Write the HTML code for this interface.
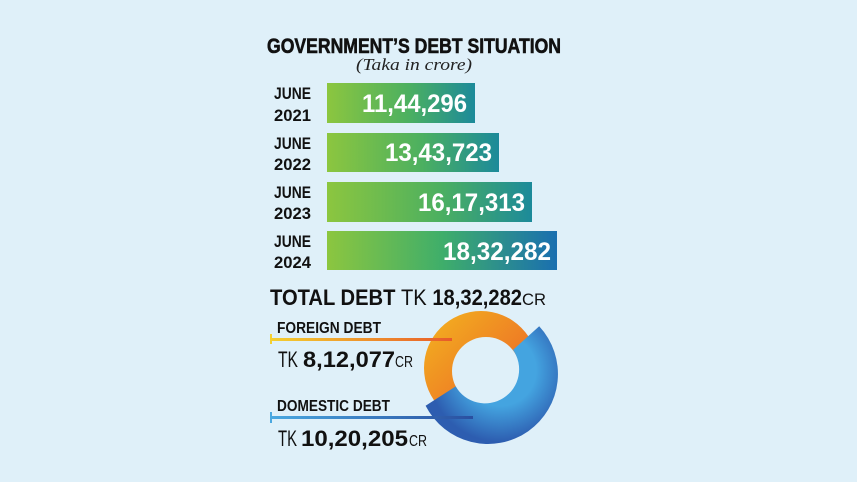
<!DOCTYPE html>
<html><head><meta charset="utf-8"><style>
html,body{margin:0;padding:0;background:#dff0f9;}
svg{display:block}
text{font-family:"Liberation Sans",sans-serif;}
</style></head><body>
<svg width="857" height="482" viewBox="0 0 857 482" xmlns="http://www.w3.org/2000/svg">
<defs>
<linearGradient id="bar" x1="0" y1="0" x2="1" y2="0">
<stop offset="0" stop-color="#8cc63f"/><stop offset="0.55" stop-color="#4cb060"/><stop offset="1" stop-color="#1c8a9a"/>
</linearGradient>
<linearGradient id="bar2" gradientUnits="userSpaceOnUse" x1="327" y1="0" x2="557" y2="0">
<stop offset="0" stop-color="#8cc63f"/><stop offset="0.5" stop-color="#3fae6a"/><stop offset="1" stop-color="#1a6fb0"/>
</linearGradient>
<linearGradient id="org" x1="0" y1="0" x2="1" y2="1">
<stop offset="0" stop-color="#f3b51f"/><stop offset="0.6" stop-color="#ee7a25"/><stop offset="1" stop-color="#e65a2c"/>
</linearGradient>
<radialGradient id="blu" gradientUnits="userSpaceOnUse" cx="500" cy="370" r="72">
<stop offset="0.5" stop-color="#44a4e0"/><stop offset="1" stop-color="#2d5db0"/>
</radialGradient>
<linearGradient id="fl" x1="0" x2="1"><stop offset="0" stop-color="#f4d030"/><stop offset="1" stop-color="#e85a2a"/></linearGradient>
<linearGradient id="dl" x1="0" x2="1"><stop offset="0" stop-color="#4aa8e0"/><stop offset="1" stop-color="#2a4fa0"/></linearGradient>
</defs>
<rect width="857" height="482" fill="#dff0f9"/>
<text x="267" y="53" font-size="21" font-weight="bold" textLength="294" lengthAdjust="spacingAndGlyphs" fill="#111" stroke="#111" stroke-width="0.6">GOVERNMENT’S DEBT SITUATION</text>
<text x="356" y="70" font-size="17" font-style="italic" style="font-family:'Liberation Serif',serif" textLength="116" lengthAdjust="spacingAndGlyphs" fill="#222">(Taka in crore)</text>

<g font-weight="bold" font-size="17" fill="#111">
<text x="274" y="99" textLength="37" lengthAdjust="spacingAndGlyphs">JUNE</text>
<text x="274" y="121" textLength="37" lengthAdjust="spacingAndGlyphs">2021</text>
<text x="274" y="149" textLength="37" lengthAdjust="spacingAndGlyphs">JUNE</text>
<text x="274" y="170" textLength="37" lengthAdjust="spacingAndGlyphs">2022</text>
<text x="274" y="198" textLength="37" lengthAdjust="spacingAndGlyphs">JUNE</text>
<text x="274" y="219" textLength="37" lengthAdjust="spacingAndGlyphs">2023</text>
<text x="274" y="247" textLength="37" lengthAdjust="spacingAndGlyphs">JUNE</text>
<text x="274" y="268" textLength="37" lengthAdjust="spacingAndGlyphs">2024</text>
</g>
<rect x="327" y="83" width="148" height="40" fill="url(#bar)"/>
<rect x="327" y="133" width="172" height="39" fill="url(#bar)"/>
<rect x="327" y="182" width="205" height="40" fill="url(#bar)"/>
<rect x="327" y="231" width="230" height="39" fill="url(#bar2)"/>
<g font-weight="bold" font-size="25" fill="#fff">
<text x="362" y="112" textLength="105" lengthAdjust="spacingAndGlyphs">11,44,296</text>
<text x="385" y="161" textLength="107" lengthAdjust="spacingAndGlyphs">13,43,723</text>
<text x="418" y="211" textLength="107" lengthAdjust="spacingAndGlyphs">16,17,313</text>
<text x="443" y="260" textLength="108" lengthAdjust="spacingAndGlyphs">18,32,282</text>
</g>
<text x="270" y="305" font-size="22" font-weight="bold" fill="#111" textLength="252" lengthAdjust="spacingAndGlyphs">TOTAL DEBT <tspan font-weight="normal">TK </tspan>18,32,282</text>
<text x="522" y="305" font-size="17" fill="#111" textLength="24" lengthAdjust="spacingAndGlyphs">CR</text>

<path fill-rule="evenodd" fill="url(#org)" d="M481,311 a57,57 0 1 1 0,114 a57,57 0 1 1 0,-114 Z M486,337 a34,34 0 1 0 0,68 a34,34 0 1 0 0,-68 Z"/>
<path fill="url(#blu)" d="M539.2,326.3 A70,70 0 1 1 425.6,405.8 L455.7,386.4 A34,34 0 1 0 513,349.9 Z"/>
<rect x="270" y="338" width="182" height="3" fill="url(#fl)"/>
<rect x="270" y="334" width="2" height="10" fill="#f4d030"/>
<rect x="272" y="416" width="201" height="3" fill="url(#dl)"/>
<rect x="270" y="412" width="2" height="11" fill="#4aa8e0"/>

<text x="277" y="333" font-size="16" font-weight="bold" fill="#111" textLength="104" lengthAdjust="spacingAndGlyphs">FOREIGN DEBT</text>
<text x="278" y="367" font-size="22" fill="#111" textLength="20" lengthAdjust="spacingAndGlyphs">TK</text>
<text x="303" y="367" font-size="22" font-weight="bold" fill="#111" textLength="92" lengthAdjust="spacingAndGlyphs">8,12,077</text>
<text x="395" y="367" font-size="16" fill="#111" textLength="18" lengthAdjust="spacingAndGlyphs">CR</text>
<text x="277" y="411" font-size="16" font-weight="bold" fill="#111" textLength="113" lengthAdjust="spacingAndGlyphs">DOMESTIC DEBT</text>
<text x="278" y="446" font-size="22" fill="#111" textLength="19" lengthAdjust="spacingAndGlyphs">TK</text>
<text x="301" y="446" font-size="22" font-weight="bold" fill="#111" textLength="107" lengthAdjust="spacingAndGlyphs">10,20,205</text>
<text x="409" y="446" font-size="16" fill="#111" textLength="18" lengthAdjust="spacingAndGlyphs">CR</text>
</svg>
</body></html>
